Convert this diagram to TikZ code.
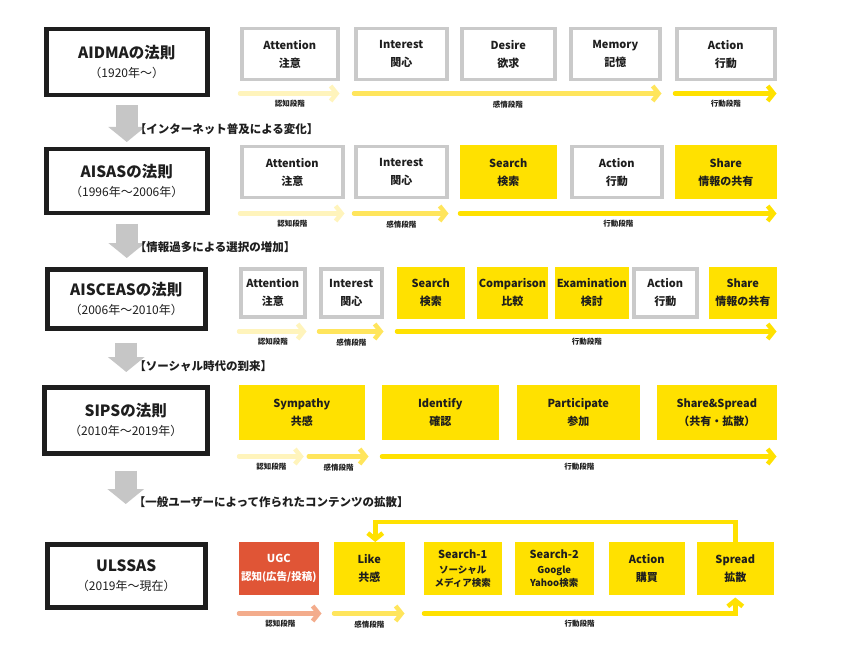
\documentclass[tikz,border=0pt]{standalone}
\usepackage{fontspec}
\setmainfont{Noto Sans CJK JP}
\usetikzlibrary{arrows.meta}

\definecolor{lawyellow}{HTML}{FFE100}
\definecolor{lawgray}{HTML}{CACACA}
\definecolor{changegray}{HTML}{C6C6C6}
\definecolor{ugcred}{HTML}{E05536}
\definecolor{cognyellow}{HTML}{FFF4BC}
\definecolor{emoyellow}{HTML}{FFE55C}
\definecolor{ugcsalmon}{HTML}{F3AC8C}
\definecolor{inkblack}{HTML}{1E1E1E}

\newcommand{\lawtitle}{\bfseries\fontsize{15.5}{17}\selectfont}
\newcommand{\lawyears}{\fontsize{12}{14}\selectfont}
\newcommand{\stepsmall}{\bfseries\fontsize{9.5}{11}\selectfont}

\tikzset{
  law/.style={draw=inkblack, line width=4.5pt, fill=white, anchor=north west, align=center, inner sep=0pt, text=inkblack},
  stepbox/.style={line width=3.5pt, anchor=north west, align=center, inner sep=0pt, text=inkblack, font=\bfseries\fontsize{11}{18}\selectfont},
  graystep/.style={stepbox, draw=lawgray, fill=white},
  yellowstep/.style={stepbox, draw=lawyellow, fill=lawyellow},
  redstep/.style={stepbox, draw=ugcred, fill=ugcred, text=white},
  stage/.style={line width=4.5pt, line cap=round, -{Straight Barb[length=6pt,width=15pt]}},
  cogn/.style={stage, draw=cognyellow},
  emo/.style={stage, draw=emoyellow},
  act/.style={stage, draw=lawyellow},
  ugcarrow/.style={stage, draw=ugcsalmon},
  stagelabel/.style={below=7pt, inner sep=0pt, outer sep=0pt, text=inkblack, font=\bfseries\fontsize{7.5}{8}\selectfont},
  change/.style={draw=changegray, line width=22pt, -{Triangle[length=15pt,width=36pt]}},
  changelabel/.style={right=8pt, inner sep=0pt, outer sep=0pt, text=inkblack, font=\bfseries\fontsize{11.5}{13}\selectfont},
}

\begin{document}
\begin{tikzpicture}[x=1pt, y=-1pt]

  \useasboundingbox (0,0) rectangle (842,652);

  % law boxes
  \node[law, minimum width=161pt, minimum height=66pt] (aidma) at (44,27) {{\lawtitle AIDMAの法則}\\[7pt]{\lawyears （1920年～）}};
  \node[law, minimum width=161pt, minimum height=64pt] (aisas) at (44,147) {{\lawtitle AISASの法則}\\[7pt]{\lawyears （1996年～2006年）}};
  \node[law, minimum width=158pt, minimum height=59pt] (aisceas) at (45,267) {{\lawtitle AISCEASの法則}\\[7pt]{\lawyears （2006年～2010年）}};
  \node[law, minimum width=163pt, minimum height=66pt] (sips) at (42,385) {{\lawtitle SIPSの法則}\\[7pt]{\lawyears （2010年～2019年）}};
  \node[law, minimum width=158pt, minimum height=63pt] (ulssas) at (45,542) {{\lawtitle ULSSAS}\\[7pt]{\lawyears （2019年～現在）}};

  % changes between laws
  \draw[change, shorten <=8pt, shorten >=5pt] (aidma.south) -- (aidma.south |- aisas.north)
    node[pos=0.63, changelabel] {【インターネット普及による変化】};
  \draw[change, shorten <=8pt, shorten >=9pt] (aisas.south) -- (aisas.south |- aisceas.north)
    node[pos=0.61, changelabel] {【情報過多による選択の増加】};
  \draw[change, shorten <=12pt, shorten >=13pt] (aisceas.south) -- (aisceas.south |- sips.north)
    node[pos=0.66, changelabel] {【ソーシャル時代の到来】};
  \draw[change, shorten <=15pt, shorten >=38pt] (sips.south) -- (sips.south |- ulssas.north)
    node[pos=0.54, changelabel] {【一般ユーザーによって作られたコンテンツの拡散】};

  % AIDMA
  \foreach \nm/\x/\w/\txt in {att1/240/96/{Attention\\注意}, int1/354/91/{Interest\\関心},
      des1/460/93/{Desire\\欲求}, mem1/569/89/{Memory\\記憶}, act1/675/98/{Action\\行動}}
    \node[graystep, minimum width=\w pt, minimum height=51pt] (\nm) at (\x,27) {\txt};

  \draw[cogn] ([yshift=-12pt]att1.south west) -- ([yshift=-12pt]att1.south east) node[midway, stagelabel] {認知段階};
  \draw[emo] ([yshift=-12pt]int1.south west) -- ([yshift=-12pt]mem1.south east) node[midway, stagelabel] {感情段階};
  \draw[act] ([yshift=-12pt]act1.south west) -- ([yshift=-12pt]act1.south east) node[midway, stagelabel] {行動段階};

  % AISAS
  \node[graystep, minimum width=101pt, minimum height=51pt] (att2) at (240,145) {Attention\\注意};
  \node[graystep, minimum width=91pt, minimum height=51pt] (int2) at (354,145) {Interest\\関心};
  \node[yellowstep, minimum width=93pt, minimum height=51pt] (sea2) at (460,145) {Search\\検索};
  \node[graystep, minimum width=90pt, minimum height=51pt] (act2) at (570,145) {Action\\行動};
  \node[yellowstep, minimum width=98pt, minimum height=51pt] (sha2) at (675,145) {Share\\情報の共有};

  \draw[cogn] ([yshift=-14pt]att2.south west) -- ([yshift=-14pt]att2.south east) node[midway, stagelabel] {認知段階};
  \draw[emo] ([yshift=-14pt]int2.south west) -- ([yshift=-14pt]int2.south east) node[midway, stagelabel] {感情段階};
  \draw[act] ([yshift=-14pt]sea2.south west) -- ([yshift=-14pt]sha2.south east) node[midway, stagelabel] {行動段階};

  % AISCEAS
  \node[graystep, minimum width=64pt, minimum height=48pt] (att3) at (239,267) {Attention\\注意};
  \node[graystep, minimum width=61pt, minimum height=48pt] (int3) at (319,267) {Interest\\関心};
  \node[yellowstep, minimum width=64pt, minimum height=48pt] (sea3) at (397,267) {Search\\検索};
  \node[yellowstep, minimum width=63pt, minimum height=48pt] (com3) at (477,267) {Comparison\\比較};
  \node[yellowstep, minimum width=63pt, minimum height=48pt] (exa3) at (555,267) {Examination\\検討};
  \node[graystep, minimum width=63pt, minimum height=48pt] (act3) at (632,267) {Action\\行動};
  \node[yellowstep, minimum width=64pt, minimum height=48pt] (sha3) at (709,267) {Share\\情報の共有};

  \draw[cogn] ([yshift=-13pt]att3.south west) -- ([yshift=-13pt]att3.south east) node[midway, stagelabel] {認知段階};
  \draw[emo] ([yshift=-13pt]int3.south west) -- ([yshift=-13pt]int3.south east) node[midway, stagelabel] {感情段階};
  \draw[act] ([yshift=-13pt]sea3.south west) -- ([yshift=-13pt]sha3.south east) node[midway, stagelabel] {行動段階};

  % SIPS
  \foreach \nm/\x/\w/\txt in {sym4/239/122/{Sympathy\\共感}, ide4/382/113/{Identify\\確認},
      par4/517/119/{Participate\\参加}, shs4/657/116/{Share\&Spread\\（共有・拡散）}}
    \node[yellowstep, minimum width=\w pt, minimum height=51pt] (\nm) at (\x,385) {\txt};

  \draw[cogn] ([yshift=-17pt]sym4.south west) -- ([xshift=2pt,yshift=-17pt]sym4.south) node[midway, stagelabel] {認知段階};
  \draw[emo] ([xshift=7pt,yshift=-17pt]sym4.south) -- ([xshift=4pt,yshift=-17pt]sym4.south east) node[midway, stagelabel] {感情段階};
  \draw[act] ([yshift=-17pt]ide4.south west) -- ([yshift=-17pt]shs4.south east) node[midway, stagelabel] {行動段階};

  % ULSSAS
  \node[redstep, minimum width=76pt, minimum height=49pt] (ugc5) at (239,542) {UGC\\{\fontsize{10.5}{12}\selectfont 認知(広告/投稿)}};
  \node[yellowstep, minimum width=67pt, minimum height=49pt] (lik5) at (334,542) {Like\\共感};
  \node[yellowstep, minimum width=74pt, minimum height=49pt] (se15) at (424,542) {Search-1\\[-3pt]{\stepsmall ソーシャル}\\[-5pt]{\stepsmall メディア検索}};
  \node[yellowstep, minimum width=75pt, minimum height=49pt] (se25) at (515,542) {Search-2\\[-3pt]{\stepsmall Google}\\[-5pt]{\stepsmall Yahoo検索}};
  \node[yellowstep, minimum width=72pt, minimum height=49pt] (act5) at (609,542) {Action\\購買};
  \node[yellowstep, minimum width=73pt, minimum height=49pt] (spr5) at (697,542) {Spread\\拡散};

  \draw[ugcarrow] ([yshift=-19pt]ugc5.south west) -- ([xshift=3pt,yshift=-19pt]ugc5.south east) node[midway, stagelabel] {認知段階};
  \draw[emo] ([yshift=-19pt]lik5.south west) -- ([yshift=-19pt]lik5.south east) node[midway, stagelabel] {感情段階};
  \draw[act, shorten >=3pt] ([yshift=-19pt]se15.south west) -| (spr5.south) node[pos=0.25, stagelabel] {行動段階};
  \draw[act] (spr5.north) -- ++(0,-20) -| ([xshift=6pt]lik5.north);

\end{tikzpicture}
\end{document}
